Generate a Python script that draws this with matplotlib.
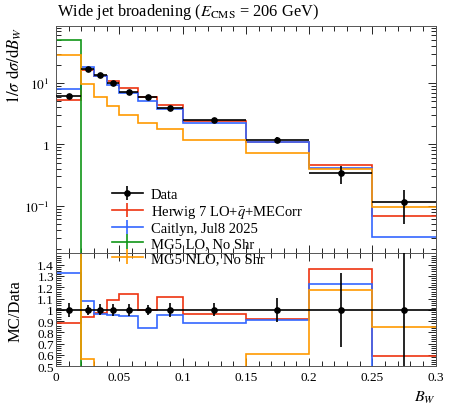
import numpy as np
import matplotlib
matplotlib.use("Agg")
import matplotlib.pyplot as plt
from matplotlib.ticker import FixedLocator, MultipleLocator, LogLocator, FuncFormatter, NullFormatter

plt.rcParams["font.family"] = ["Liberation Serif", "DejaVu Serif"]
plt.rcParams["mathtext.fontset"] = "stix"

# --------------------------------------------------------------------------- #
# Data
# --------------------------------------------------------------------------- #
bin_edges = [0.0, 0.02, 0.03, 0.04, 0.05, 0.065, 0.08, 0.10, 0.15, 0.20, 0.25, 0.30]

data_vals = [6.07, 17.1, 13.6, 9.9, 7.2, 6.0, 3.9, 2.53, 1.2, 0.34, 0.115]
data_errs = [0.38, 0.75, 0.64, 0.54, 0.38, 0.25, 0.25, 0.15, 0.13, 0.112, 0.065]

herwig_vals = [5.34, 16.07, 13.19, 10.75, 8.21, 6.0, 4.33, 2.44, 1.10, 0.462, 0.068]
caitlyn_vals = [8.05, 18.47, 13.06, 9.45, 6.82, 5.01, 3.71, 2.23, 1.09, 0.417, 0.031]
mg5lo_vals = [50.6, 0, 0, 0, 0, 0, 0, 0, 0, 0, 0]
mg5nlo_vals = [28.5, 9.6, 6.0, 4.2, 3.0, 2.2, 1.75, 1.17, 0.73, 0.40, 0.097]

mc_labels = ["Herwig 7 LO+$\\bar{q}$+MECorr", "Caitlyn, Jul8 2025",
             "MG5 LO, No Shr", "MG5 NLO, No Shr"]
mc_colors = ["#EE3311", "#3366FF", "#109618", "#FF9900"]

title = "Wide jet broadening ($E_{\\mathrm{CMS}}$ = 206 GeV)"

# --------------------------------------------------------------------------- #
# Plotting
# --------------------------------------------------------------------------- #
edges = np.array(bin_edges)
centres = 0.5 * (edges[1:] + edges[:-1])
halfw = 0.5 * np.diff(edges)
data = np.array(data_vals)
derr = np.array(data_errs)
mc_sets = [np.array(v, dtype=float) for v in (herwig_vals, caitlyn_vals, mg5lo_vals, mg5nlo_vals)]

W, H = 450, 406
fig = plt.figure(figsize=(W / 100, H / 100), dpi=100, facecolor="white")

left, right = 56 / W, 435.7 / W
ax = fig.add_axes([left, 1 - 254.3 / H, right - left, (254.3 - 26.7) / H])
axr = fig.add_axes([left, 1 - 367.3 / H, right - left, (367.3 - 254.3) / H])

for c, vals in zip(mc_colors, mc_sets):
    ax.stairs(vals, edges, baseline=None, color=c, lw=1.2, zorder=2)
    with np.errstate(divide="ignore", invalid="ignore"):
        axr.stairs(vals / data, edges, baseline=None, color=c, lw=1.2, zorder=2)

ax.errorbar(centres, data, xerr=halfw, yerr=derr, fmt="o", color="black",
            ms=3.8, lw=1.2, capsize=0, zorder=5)
axr.errorbar(centres, np.ones_like(data), xerr=halfw, yerr=derr / data, fmt="o",
             color="black", ms=3.8, lw=1.2, capsize=0, zorder=5)

ax.set_yscale("log")
ax.set_xlim(0, 0.3)
ax.set_ylim(0.0168, 85.9)
axr.set_xlim(0, 0.3)
axr.set_ylim(0.5, 1.5)

labels = {10.0: "$10^1$", 1.0: "1", 0.1: "$10^{-1}$"}
ax.yaxis.set_major_locator(FixedLocator([0.1, 1.0, 10.0]))
ax.yaxis.set_major_formatter(FuncFormatter(lambda v, p: labels.get(round(v, 6), "")))
ax.yaxis.set_minor_locator(LogLocator(base=10, subs=np.arange(2, 10)))
ax.yaxis.set_minor_formatter(NullFormatter())

for a in (ax, axr):
    a.xaxis.set_major_locator(MultipleLocator(0.05))
    a.xaxis.set_minor_locator(MultipleLocator(0.01))
    a.tick_params(which="both", direction="in", top=True, right=True, labelsize=9.5)
    a.tick_params(which="major", length=6, width=0.6)
    a.tick_params(which="minor", length=3.5, width=0.6)
    for s in a.spines.values():
        s.set_linewidth(0.7)
        s.set_color("#555555")
ax.tick_params(labelbottom=False)
ax.tick_params(axis="y", pad=5)
axr.tick_params(axis="y", pad=1.5)

axr.yaxis.set_major_locator(FixedLocator(np.round(np.arange(0.5, 1.41, 0.1), 2)))
axr.yaxis.set_minor_locator(MultipleLocator(0.02))
axr.yaxis.set_major_formatter(FuncFormatter(lambda v, p: f"{v:g}"))
axr.xaxis.set_major_formatter(FuncFormatter(lambda v, p: f"{v:g}"))

ax.set_ylabel("$1/\\sigma\\ \\mathrm{d}\\sigma/\\mathrm{d}B_W$", fontsize=12, loc="top")
ax.yaxis.set_label_coords(-0.085, 1.0)
axr.set_ylabel("MC/Data", fontsize=12)
axr.yaxis.set_label_coords(-0.085, 0.5)
axr.set_xlabel("$B_W$", fontsize=11.5, loc="right")

fig.text(57 / W, 1 - 16 / H, title, fontsize=11.8, ha="left", va="baseline")

# legend handles drawn off-canvas
handles = [ax.errorbar([np.nan], [np.nan], yerr=[1], fmt="-o", color="black", ms=3.8, lw=1.2)]
for c in mc_colors:
    handles.append(ax.errorbar([np.nan], [np.nan], yerr=[1], fmt="-", color=c, lw=1.2))
fig.legend(handles, ["Data"] + mc_labels, loc="upper left",
           bbox_to_anchor=(112 / W, 1 - 189 / H), frameon=False, fontsize=10.5,
           handlelength=2.1, handletextpad=0.55, labelspacing=0.12,
           borderpad=0, borderaxespad=0)

fig.savefig("out.png", dpi=100)
